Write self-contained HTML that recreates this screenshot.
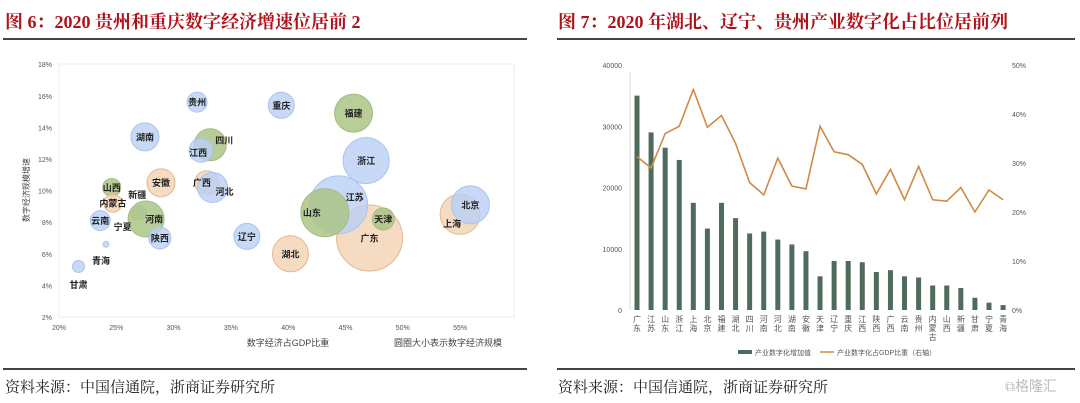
<!DOCTYPE html>
<html><head><meta charset="utf-8">
<style>
body{margin:0;width:1080px;height:403px;background:#fff;overflow:hidden;font-family:"Liberation Sans","Noto Sans CJK SC",sans-serif;position:relative}
.title{position:absolute;top:8px;font-family:"Liberation Serif","Noto Serif CJK SC",serif;font-weight:bold;font-size:18px;color:#b0121b;white-space:nowrap}
.rule{position:absolute;height:2px;background:#444}
.src{position:absolute;top:376px;font-family:"Liberation Serif","Noto Serif CJK SC",serif;font-size:15px;color:#222;white-space:nowrap}
svg{position:absolute;left:0;top:0}
</style></head><body>
<div class="title" style="left:5px">图 6：2020 贵州和重庆数字经济增速位居前 2</div>
<div class="title" style="left:558px">图 7：2020 年湖北、辽宁、贵州产业数字化占比位居前列</div>
<div class="rule" style="left:3px;width:524px;top:38px"></div>
<div class="rule" style="left:557px;width:518px;top:38px"></div>
<div class="rule" style="left:3px;width:524px;top:368px"></div>
<div class="rule" style="left:557px;width:518px;top:368px"></div>
<div class="src" style="left:5px">资料来源：中国信通院，浙商证券研究所</div>
<div class="src" style="left:558px">资料来源：中国信通院，浙商证券研究所</div>
<div style="position:absolute;left:1005px;top:376px;font-size:14px;color:#bbb">⧉格隆汇</div>
<svg id="s" width="1080" height="403"></svg>
<script>
// ---- bubble chart data ----
const bNames=["贵州","重庆","福建","湖南","四川","江西","浙江","安徽","广西","河北","山西","内蒙古","新疆","宁夏","河南","云南","陕西","辽宁","青海","甘肃","湖北","广东","江苏","山东","天津","上海","北京"];
const bShare=[32.05,39.4,45.7,27.5,33.2,32.4,46.8,28.9,32.9,33.4,24.6,24.7,27.0,26.6,27.6,23.6,28.8,36.4,24.1,21.7,40.2,47.1,44.4,43.2,48.3,55.0,55.9];
const bGrowth=[15.6,15.4,14.9,13.4,12.9,12.55,11.9,10.5,10.5,10.2,10.2,9.2,8.6,8.5,8.2,8.1,7.0,7.1,6.6,5.2,6.0,7.0,9.1,8.6,8.2,8.5,9.1];
const bSize=[10,13,19,14,16,12,23,14,12,15,9,9,7,4,18,10,11,13,3,6,18,33,29,24,11,20,19];
const bGroup=["b","b","g","b","g","b","b","o","o","b","g","o","b","o","g","b","b","b","b","b","o","o","b","g","g","o","b"];
const xTicks=[20,25,30,35,40,45,50,55];
const yTicks=[2,4,6,8,10,12,14,16,18];
// ---- bar/line chart data ----
const cats=["广东","江苏","山东","浙江","上海","北京","福建","湖北","四川","河南","河北","湖南","安徽","天津","辽宁","重庆","江西","陕西","广西","云南","贵州","内蒙古","山西","新疆","甘肃","宁夏","青海"];
const barVals=[35000,29000,26500,24500,17500,13300,17500,15000,12500,12800,11500,10700,9600,5500,8000,8000,7800,6200,6500,5500,5300,4000,4000,3600,2000,1200,800];
const lineVals=[31.3,29,36,37.5,45,37.3,39.7,34,26,23.5,31,25.3,24.7,37.5,32.3,31.7,29.7,23.7,28.7,22.5,29.3,22.5,22.2,25,20,24.5,22.5];
const lTicks=[0,10000,20000,30000,40000];
const rTicks=[0,10,20,30,40,50];

const s=document.getElementById('s');const NS="http://www.w3.org/2000/svg";
function el(t,a,txt){const e=document.createElementNS(NS,t);for(const k in a)e.setAttribute(k,a[k]);if(txt!==undefined)e.textContent=txt;s.appendChild(e);return e;}

// bubble axes
const bx=v=>59+(v-20)/5*57.3, by=v=>317-(v-2)/2*31.6;
let r=el('rect',{x:59,y:64,width:455,height:253,fill:'#fff',stroke:'#eee'});

xTicks.forEach(t=>{let e=el('text',{x:bx(t),y:330,'font-size':7,'text-anchor':'middle',fill:'#555'},t+'%');
});
yTicks.forEach(t=>{let e=el('text',{x:52,y:by(t)+3,'font-size':7,'text-anchor':'end',fill:'#555'},t+'%');
});
const cols={b:['rgba(185,208,245,0.8)','#a9c4ee'],g:['rgba(172,196,134,0.85)','#a3bb82'],o:['rgba(242,210,178,0.8)','#e3b892']};
bNames.forEach((n,i)=>{let c=el('circle',{cx:bx(bShare[i]),cy:by(bGrowth[i]),r:bSize[i],fill:cols[bGroup[i]][0],stroke:cols[bGroup[i]][1],'stroke-width':1});
});
const lblOff={"四川":[14,-5],"江西":[-3,2],"河北":[12,4],"广西":[-5,0],"新疆":[-2,-18],"宁夏":[-12,12],"河南":[8,0],"青海":[-5,16],"甘肃":[0,18],"江苏":[16,-8],"山东":[-13,0],"北京":[0,0],"上海":[-8,9],"内蒙古":[0,0],"天津":[0,0]};
bNames.forEach((n,i)=>{const o=lblOff[n]||[0,0];let t=el('text',{x:bx(bShare[i])+o[0],y:by(bGrowth[i])+o[1]+3.5,'font-size':9,'font-weight':'bold','text-anchor':'middle',fill:'#222'},n);
});
let t1=el('text',{x:288,y:346,'font-size':9,'text-anchor':'middle',fill:'#444'},'数字经济占GDP比重');
let t2=el('text',{x:448,y:346,'font-size':9,'text-anchor':'middle',fill:'#444'},'圆圈大小表示数字经济规模');
let t3=el('text',{x:0,y:0,'font-size':8,'text-anchor':'middle',fill:'#444',transform:'translate(29,190) rotate(-90)'},'数字经济规模增速');

// bar/line chart
const X0=637,DX=14.08;const xc=i=>X0+i*DX;
const yl=v=>310-v/40000*245, yr=v=>310-v/50*245;
let ax=el('line',{x1:630,y1:72,x2:630,y2:310,stroke:'#ddd'});
lTicks.forEach(t=>{let e=el('text',{x:622,y:yl(t)+3,'font-size':7,'text-anchor':'end',fill:'#555'},t);
});
rTicks.forEach(t=>{let e=el('text',{x:1012,y:yr(t)+3,'font-size':7,'text-anchor':'start',fill:'#555'},t+'%');
});
cats.forEach((c,i)=>{let b=el('rect',{x:xc(i)-2.5,y:yl(barVals[i]),width:5,height:310-yl(barVals[i]),fill:'#4f6b5b'});

[...c].forEach((ch,k)=>{let t=el('text',{x:xc(i),y:322+k*9,'font-size':8,'text-anchor':'middle',fill:'#555'},ch);
});});
let pts=lineVals.map((v,i)=>xc(i)+','+yr(v)).join(' ');
let pl=el('polyline',{points:pts,fill:'none',stroke:'#d08a48','stroke-width':1.6});
let lg1=el('rect',{x:738,y:350,width:14,height:4,fill:'#4f6b5b'});
let lg2=el('text',{x:755,y:355,'font-size':7,fill:'#555'},'产业数字化增加值');
let lg3=el('line',{x1:820,y1:352,x2:834,y2:352,stroke:'#d08a48','stroke-width':1.5});
let lg4=el('text',{x:837,y:355,'font-size':7,fill:'#555'},'产业数字化占GDP比重（右轴）');
</script>
</body></html>
